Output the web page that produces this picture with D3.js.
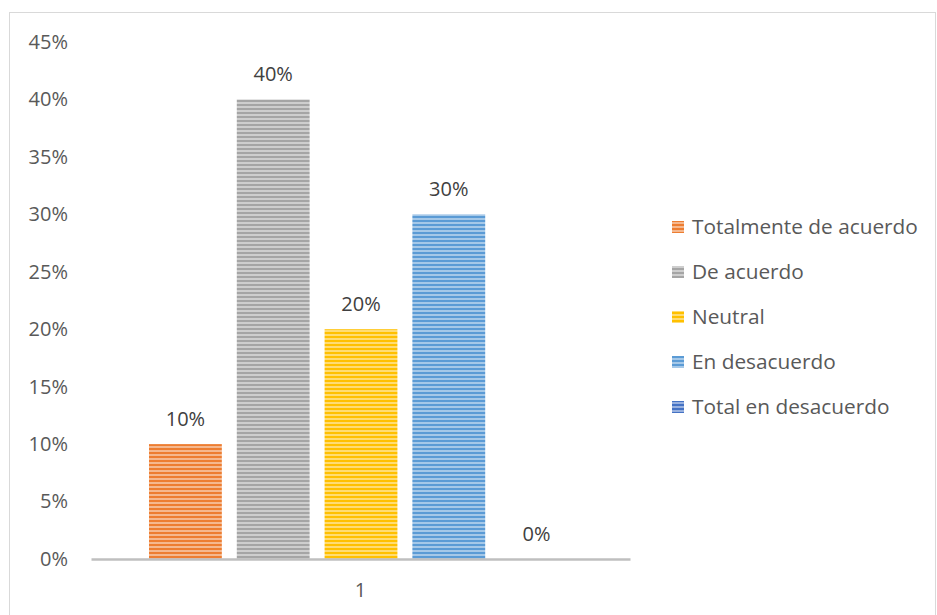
<!DOCTYPE html>
<html><head><meta charset="utf-8">
<script src="https://cdn.jsdelivr.net/npm/d3@7"></script>
<style>body{margin:0;background:#fff;} svg{display:block;}</style>
</head><body>
<script>
const categories = ["1"];
const seriesNames = ["Totalmente de acuerdo","De acuerdo","Neutral","En desacuerdo","Total en desacuerdo"];
const seriesValues = [0.10, 0.40, 0.20, 0.30, 0.00];
const seriesColors = ["#ED7D31","#A5A5A5","#FFC000","#5B9BD5","#4472C4"];
const tickValues = [0,0.05,0.10,0.15,0.20,0.25,0.30,0.35,0.40,0.45];

const W = 937, H = 615;
const svg = d3.select("body").append("svg").attr("width", W).attr("height", H);
const font = "'Open Sans', sans-serif";
const fs = 20;

// chart border
svg.append("rect").attr("x",9.5).attr("y",12.5).attr("width",926).attr("height",610)
  .attr("fill","#fff").attr("stroke","#d9d9d9").attr("stroke-width",1);

const defs = svg.append("defs");
seriesColors.forEach((c,i)=>{
  const p = defs.append("pattern").attr("id","pat"+i).attr("patternUnits","userSpaceOnUse")
    .attr("width",8).attr("height",4);
  p.append("rect").attr("width",8).attr("height",4).attr("fill", d3.interpolateRgb(c,"#fff")(0.45));
  p.append("rect").attr("width",8).attr("height",2).attr("fill", c);
});

const plotLeft = 91, plotRight = 630, y0 = 559, yTop = 42;
const y = d3.scaleLinear().domain([0,0.45]).range([y0,yTop]);
const x0 = d3.scaleBand().domain(categories).range([plotLeft, plotRight]).paddingInner(0).paddingOuter(0);
const x1 = d3.scaleBand().domain(seriesNames).range([149, 573]).paddingInner(15/88).paddingOuter(0);

// y axis labels
const yAxis = d3.axisLeft(y).tickValues(tickValues).tickFormat(d3.format(".0%")).tickSize(0).tickPadding(0);
const ga = svg.append("g").attr("transform","translate(68,0)").call(yAxis);
ga.select(".domain").remove();
ga.selectAll("text").attr("font-family",font).attr("font-size",fs).attr("fill","#595959");

// bars
const bars = svg.append("g");
seriesNames.forEach((s,i)=>{
  const v = seriesValues[i];
  const bx = x1(s), bw = x1.bandwidth();
  if (v > 0) {
    bars.append("rect").attr("x", bx).attr("y", y(v)).attr("width",bw).attr("height", y(0)-y(v))
      .attr("fill","url(#pat"+i+")");
  }
  bars.append("text").attr("x", bx+bw/2).attr("y", y(v)-18)
    .attr("text-anchor","middle").attr("font-family",font).attr("font-size",fs).attr("fill","#404040")
    .text(d3.format(".0%")(v));
});

// x axis line
const xAxis = d3.axisBottom(x0).tickSize(0).tickPadding(0);
const gx = svg.append("g").attr("transform",`translate(0,${y0})`).call(xAxis);
gx.select(".domain").attr("stroke","#bfbfbf").attr("stroke-width",2.5);
gx.selectAll("text").attr("dy",0).attr("y",38).attr("font-family",font).attr("font-size",fs).attr("fill","#595959");

// legend
const leg = svg.append("g");
seriesNames.forEach((s,i)=>{
  const ly = 227 + i*45;
  leg.append("rect").attr("x",672).attr("y",ly-6).attr("width",12).attr("height",12).attr("fill","url(#pat"+i+")");
  leg.append("text").attr("x",692).attr("y",ly).attr("dy","0.35em").attr("font-family",font)
    .attr("font-size",20.8).attr("fill","#595959").text(s);
});
</script>
</body></html>
